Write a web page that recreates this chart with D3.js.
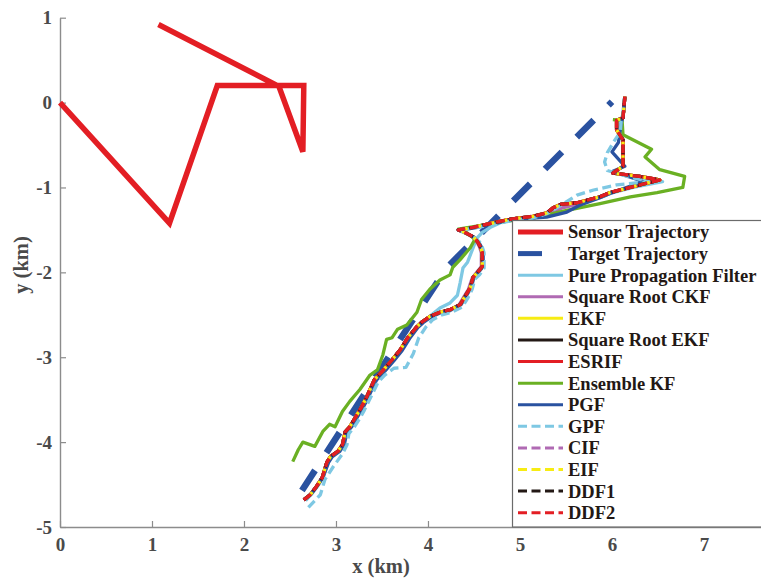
<!DOCTYPE html>
<html>
<head>
<meta charset="utf-8">
<script src="https://cdn.jsdelivr.net/npm/d3@7"></script>
<style>
  html, body { margin: 0; padding: 0; background: #fff; }
  svg { display: block; }
</style>
</head>
<body>
<svg id="chart" width="761" height="581"></svg>
<script>
// ---- Data (km) ----
const xTicks = [0, 1, 2, 3, 4, 5, 6, 7];
const yTicks = [-5, -4, -3, -2, -1, 0, 1];

const sensorTrack = [[0, 0], [1.19, -1.42], [1.71, 0.20], [2.65, 0.20], [2.64, -0.58], [2.38, 0.19], [1.07, 0.92]];
const targetTrack = [[2.63, -4.57], [4.20, -1.95], [6.00, 0.01]];

// track shared by EKF, SR EKF, ESRIF, CIF, EIF, DDF1, DDF2
const commonTrack = [
  [2.65, -4.68], [2.72, -4.62], [2.79, -4.52], [2.85, -4.42], [2.90, -4.24], [2.94, -4.17],
  [3.02, -4.11], [3.07, -4.03], [3.10, -3.88], [3.15, -3.82], [3.21, -3.71], [3.26, -3.62],
  [3.32, -3.50], [3.37, -3.38], [3.42, -3.26], [3.50, -3.17], [3.61, -3.03], [3.70, -2.91],
  [3.78, -2.77], [3.88, -2.64], [3.94, -2.58], [4.02, -2.52], [4.13, -2.47], [4.24, -2.44],
  [4.35, -2.38], [4.40, -2.29], [4.46, -2.18], [4.49, -2.06], [4.54, -2.00], [4.59, -1.93],
  [4.59, -1.77], [4.57, -1.70], [4.54, -1.64], [4.49, -1.58], [4.38, -1.52], [4.33, -1.50],
  [4.49, -1.47], [4.78, -1.40], [4.92, -1.37], [5.14, -1.34], [5.29, -1.30], [5.36, -1.24],
  [5.44, -1.20], [5.62, -1.18], [5.87, -1.11], [5.98, -1.06], [6.23, -0.99], [6.52, -0.91],
  [6.30, -0.87], [6.01, -0.83], [6.12, -0.75], [6.12, -0.44], [6.05, -0.32], [6.05, -0.21],
  [6.12, -0.18], [6.14, 0.07]
];

const ppfTrack = [
  [2.67, -4.69], [2.73, -4.62], [2.80, -4.52], [2.86, -4.42], [2.91, -4.24], [2.95, -4.18],
  [3.03, -4.11], [3.08, -4.03], [3.11, -3.88], [3.16, -3.82], [3.22, -3.71], [3.27, -3.62],
  [3.33, -3.50], [3.38, -3.38], [3.43, -3.26], [3.51, -3.17], [3.62, -3.03], [3.71, -2.91],
  [3.79, -2.77], [3.89, -2.64], [3.95, -2.58], [4.03, -2.51], [4.13, -2.42], [4.24, -2.36],
  [4.32, -2.27], [4.35, -2.12], [4.38, -1.95], [4.43, -1.88], [4.53, -1.60], [4.59, -1.53],
  [4.68, -1.47], [4.80, -1.41], [4.92, -1.38], [5.14, -1.35], [5.30, -1.31], [5.40, -1.25],
  [5.62, -1.19], [5.87, -1.12], [5.98, -1.07], [6.23, -1.00], [6.55, -0.93], [6.30, -0.88],
  [6.01, -0.83], [6.12, -0.75], [6.12, -0.44], [6.06, -0.32], [6.06, -0.21], [6.12, -0.17],
  [6.14, 0.07]
];

const ckfTrack = [
  [2.65, -4.68], [2.72, -4.62], [2.79, -4.52], [2.85, -4.42], [2.90, -4.24], [2.94, -4.17],
  [3.02, -4.11], [3.07, -4.03], [3.10, -3.88], [3.15, -3.82], [3.21, -3.71], [3.26, -3.62],
  [3.32, -3.50], [3.37, -3.38], [3.42, -3.26], [3.50, -3.17], [3.61, -3.03], [3.70, -2.91],
  [3.78, -2.77], [3.88, -2.64], [3.94, -2.58], [4.02, -2.52], [4.13, -2.47], [4.24, -2.44],
  [4.34, -2.38], [4.39, -2.29], [4.44, -2.20], [4.48, -2.07], [4.53, -2.00], [4.58, -1.93],
  [4.58, -1.77], [4.56, -1.70], [4.53, -1.64], [4.48, -1.58], [4.38, -1.52], [4.33, -1.50],
  [4.49, -1.47], [4.78, -1.40], [4.92, -1.37], [5.14, -1.35], [5.29, -1.32], [5.38, -1.28],
  [5.46, -1.24], [5.62, -1.20], [5.87, -1.11], [5.98, -1.06], [6.23, -0.99], [6.50, -0.91],
  [6.30, -0.87], [6.01, -0.83], [6.12, -0.75], [6.12, -0.44], [6.05, -0.32], [6.05, -0.21],
  [6.12, -0.18], [6.14, 0.07]
];

const enkfTrack = [
  [2.53, -4.23], [2.59, -4.09], [2.64, -4.00], [2.77, -4.05], [2.86, -3.87], [2.93, -3.79],
  [2.99, -3.82], [3.07, -3.64], [3.15, -3.52], [3.26, -3.38], [3.37, -3.21], [3.45, -3.15],
  [3.51, -2.97], [3.55, -2.79], [3.61, -2.77], [3.67, -2.67], [3.77, -2.62], [3.88, -2.47],
  [3.93, -2.32], [4.02, -2.20], [4.13, -2.09], [4.24, -2.03], [4.27, -1.94], [4.35, -1.85],
  [4.46, -1.71], [4.51, -1.61], [4.42, -1.53], [4.33, -1.49], [4.78, -1.41], [5.14, -1.36],
  [5.51, -1.27], [5.87, -1.19], [6.20, -1.11], [6.49, -1.06], [6.77, -1.00], [6.79, -0.87],
  [6.52, -0.79], [6.36, -0.64], [6.43, -0.55], [6.12, -0.38], [6.11, -0.21], [6.01, -0.20]
];

const pgfTrack = [
  [2.66, -4.67], [2.73, -4.61], [2.80, -4.51], [2.86, -4.41], [2.92, -4.24], [2.96, -4.17],
  [3.04, -4.11], [3.09, -4.03], [3.12, -3.88], [3.17, -3.82], [3.23, -3.71], [3.28, -3.62],
  [3.34, -3.50], [3.39, -3.38], [3.44, -3.27], [3.52, -3.18], [3.63, -3.04], [3.72, -2.92],
  [3.80, -2.78], [3.89, -2.65], [3.95, -2.59], [4.03, -2.53], [4.13, -2.48], [4.24, -2.45],
  [4.36, -2.38], [4.41, -2.29], [4.47, -2.18], [4.50, -2.06], [4.55, -2.00], [4.60, -1.93],
  [4.60, -1.77], [4.58, -1.70], [4.55, -1.64], [4.49, -1.58], [4.38, -1.52], [4.33, -1.50],
  [4.49, -1.48], [4.78, -1.41], [4.92, -1.38], [5.14, -1.36], [5.29, -1.35], [5.51, -1.29],
  [5.65, -1.21], [5.87, -1.12], [5.98, -1.07], [6.34, -0.93], [6.01, -0.81], [6.14, -0.75],
  [6.09, -0.69], [6.00, -0.58], [6.07, -0.47], [6.10, -0.24], [6.12, -0.17], [6.14, 0.07]
];

const gpfTrack = [
  [2.70, -4.77], [2.76, -4.70], [2.83, -4.62], [2.88, -4.44], [2.97, -4.29], [3.07, -4.14],
  [3.12, -4.03], [3.14, -3.90], [3.20, -3.82], [3.26, -3.72], [3.31, -3.62], [3.36, -3.51],
  [3.41, -3.40], [3.46, -3.29], [3.53, -3.21], [3.63, -3.13], [3.76, -3.12], [3.84, -2.96],
  [3.90, -2.77], [3.98, -2.64], [4.05, -2.56], [4.15, -2.50], [4.26, -2.47], [4.37, -2.41],
  [4.43, -2.31], [4.48, -2.20], [4.51, -2.08], [4.56, -2.03], [4.61, -1.95], [4.61, -1.77],
  [4.59, -1.70], [4.56, -1.64], [4.50, -1.59], [4.39, -1.53], [4.34, -1.51], [4.49, -1.48],
  [4.78, -1.42], [4.92, -1.39], [5.14, -1.36], [5.29, -1.31], [5.40, -1.24], [5.62, -1.09],
  [5.80, -1.03], [6.05, -0.97], [6.40, -0.93], [6.20, -0.88], [5.95, -0.80], [5.92, -0.70],
  [5.95, -0.59], [6.02, -0.46], [6.09, -0.35], [6.10, -0.22], [6.12, -0.12], [6.13, 0.05]
];

const seriesNames = [
  "Sensor Trajectory", "Target Trajectory", "Pure Propagation Filter", "Square Root CKF",
  "EKF", "Square Root EKF", "ESRIF", "Ensemble KF", "PGF", "GPF", "CIF", "EIF", "DDF1", "DDF2"
];
const seriesColors = [
  "#e31e24", "#2a52a0", "#7ec8e3", "#b06ab3", "#f7ec13", "#231815", "#e31e24",
  "#6ab023", "#2a52a0", "#7ec8e3", "#b06ab3", "#f7ec13", "#231815", "#e31e24"
];
const seriesTracks = [
  sensorTrack, targetTrack, ppfTrack, ckfTrack, commonTrack, commonTrack, commonTrack,
  enkfTrack, pgfTrack, gpfTrack, commonTrack, commonTrack, commonTrack, commonTrack
];

// ---- Styling helpers ----
const DASH = "9,4.5";
function styleOf(i) {
  if (i === 0) return { w: 5.5, dash: null, off: 0 };
  if (i === 1) return { w: 6.5, dash: "24,21", off: 0 };
  if (i >= 9) {
    // EIF dashes partly fill the gaps of the later black/red dashes
    return { w: 3.3, dash: DASH, off: (i === 11 ? 11 : (i === 12 ? 0.6 : 0)) };
  }
  return { w: 3.3, dash: null, off: 0 };
}

// ---- Layout ----
const svg = d3.select("#chart");
svg.append("rect").attr("width", 761).attr("height", 581).attr("fill", "#fff");

const x = d3.scaleLinear().domain([0, 7.62]).range([60, 761]);
const y = d3.scaleLinear().domain([-5, 1]).range([527, 17.7]);

const FONT = "'Liberation Serif', 'Times New Roman', serif";
const AXIS_GREY = "#8c8c8c";
const LABEL_GREY = "#4a4a4a";

// axes (ticks point inward)
const xAxis = d3.axisBottom(x).tickValues(xTicks).tickFormat(d => String(d))
  .tickSizeInner(-6).tickSizeOuter(0).tickPadding(11);
const yAxis = d3.axisLeft(y).tickValues(yTicks).tickFormat(d => String(d))
  .tickSizeInner(-6).tickSizeOuter(0).tickPadding(8);

const gx = svg.append("g").attr("transform", "translate(0,527)").call(xAxis);
const gy = svg.append("g").attr("transform", "translate(60,0)").call(yAxis);
[gx, gy].forEach(g => {
  g.select(".domain").attr("stroke", AXIS_GREY).attr("stroke-width", 1.4);
  g.selectAll(".tick line").attr("stroke", AXIS_GREY).attr("stroke-width", 1.2);
  g.selectAll(".tick text").attr("fill", LABEL_GREY)
    .style("font-family", FONT).style("font-weight", "bold").style("font-size", "19px");
});

// axis titles
svg.append("text").attr("x", 381).attr("y", 573).attr("text-anchor", "middle")
  .style("font-family", FONT).style("font-weight", "bold").style("font-size", "20.5px")
  .attr("fill", LABEL_GREY).text("x (km)");
svg.append("text").attr("transform", "translate(28,265) rotate(-90)").attr("text-anchor", "middle")
  .style("font-family", FONT).style("font-weight", "bold").style("font-size", "20.5px")
  .attr("fill", LABEL_GREY).text("y (km)");

// trajectories
const line = d3.line().x(d => x(d[0])).y(d => y(d[1]));
const plot = svg.append("g");
seriesTracks.forEach((track, i) => {
  const s = styleOf(i);
  const p = plot.append("path")
    .attr("d", line(track))
    .attr("fill", "none")
    .attr("stroke", seriesColors[i])
    .attr("stroke-width", s.w)
    .attr("stroke-linejoin", i < 2 ? "miter" : "round")
    .attr("stroke-linecap", "butt");
  if (s.dash) p.attr("stroke-dasharray", s.dash).attr("stroke-dashoffset", s.off);
});

// legend
const lg = svg.append("g");
lg.append("rect").attr("x", 512.5).attr("y", 220.5).attr("width", 260).attr("height", 306.5)
  .attr("fill", "#fff").attr("stroke", "#6b6b6b").attr("stroke-width", 1.2);
const rowY = d3.scaleLinear().domain([0, seriesNames.length - 1]).range([232, 512.7]);
seriesNames.forEach((name, i) => {
  const s = styleOf(i);
  const yy = rowY(i);
  const l = lg.append("line").attr("x1", 518).attr("x2", 563).attr("y1", yy).attr("y2", yy)
    .attr("stroke", seriesColors[i]).attr("stroke-width", i < 2 ? 5 : 3);
  if (s.dash) l.attr("stroke-dasharray", s.dash);
  lg.append("text").attr("x", 568).attr("y", yy).attr("dy", "0.35em")
    .style("font-family", FONT).style("font-weight", "bold").style("font-size", "18.5px")
    .attr("fill", "#231815").text(name);
});
</script>
</body>
</html>
